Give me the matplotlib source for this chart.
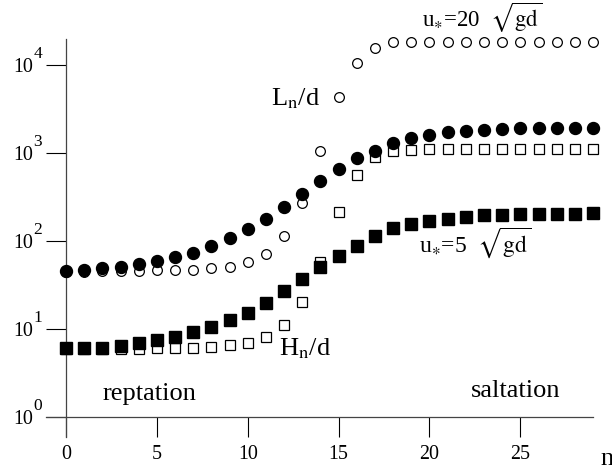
import numpy as np
import matplotlib
matplotlib.use("Agg")
import matplotlib.pyplot as plt
from matplotlib.ticker import NullLocator, FixedLocator

plt.rcParams['font.family'] = ['Liberation Serif', 'DejaVu Serif']
plt.rcParams['mathtext.fontset'] = 'stix'

# n = 0..29
n = np.arange(30)

# L_n/d, u*=20 sqrt(gd)  (open circles)
L_open = [43.9, 44.8, 45.6, 45.6, 45.6, 46.4, 46.4, 47.2, 49.0, 51.0,
          57.0, 71.7, 114, 272, 1054, 4360, 10620, 15730, 18100, 18400,
          18400, 18400, 18400, 18400, 18400, 18400, 18400, 18400, 18400, 18400]
# L_n/d, u*=5 sqrt(gd)  (filled circles)
L_fill = [45.6, 46.8, 49.7, 51.0, 54.8, 59.3, 65.3, 73.6, 87.7, 107,
          136, 178, 245, 345, 481, 658, 877, 1054, 1309, 1469,
          1602, 1719, 1778, 1841, 1875, 1909, 1909, 1938, 1938, 1938]
# H_n/d, u*=20 sqrt(gd)  (open squares)
H_open = [6.0, 6.0, 6.0, 6.0, 6.0, 6.02, 6.08, 6.13, 6.24, 6.58,
          7.02, 8.22, 11.2, 20.3, 57.7, 212, 562, 893, 1054, 1090,
          1102, 1102, 1102, 1102, 1102, 1102, 1102, 1102, 1102, 1102]
# H_n/d, u*=5 sqrt(gd)  (filled squares)
H_fill = [6.03, 6.03, 6.13, 6.46, 6.88, 7.44, 8.05, 9.17, 10.45, 12.6,
          15.1, 19.6, 26.7, 36.7, 50.2, 67.0, 88.5, 113, 140.6, 156,
          167.5, 176.5, 187.4, 197.4, 197.4, 202.8, 202.8, 202.8, 202.8, 206.5]

xticks = [0, 5, 10, 15, 20, 25]
yticks = [1, 10, 100, 1000, 10000]
yexp = ['0', '1', '2', '3', '4']

fig = plt.figure(figsize=(6.12, 4.73), dpi=100)
ax = fig.add_axes([0.0752, 0.0761, 0.8938, 0.8414])

ax.plot(n, L_open, 'o', mfc='white', mec='black', mew=0.9, ms=7, zorder=3, clip_on=False)
ax.plot(n, L_fill, 'o', color='black', ms=8.6, zorder=4, clip_on=False)
ax.plot(n, H_open, 's', mfc='white', mec='black', mew=0.9, ms=7, zorder=3, clip_on=False)
ax.plot(n, H_fill, 's', color='black', ms=8, zorder=4, clip_on=False)

ax.set_yscale('log')
ax.set_xlim(-1.1, 29.0)
ax.set_ylim(10 ** -0.227, 10 ** 4.295)

for s in ['top', 'right']:
    ax.spines[s].set_visible(False)
ax.spines['left'].set_position(('data', 0))
ax.spines['bottom'].set_position(('data', 1))
for s in ['left', 'bottom']:
    ax.spines[s].set_color('#444444')
    ax.spines[s].set_linewidth(0.9)

ax.xaxis.set_major_locator(FixedLocator(xticks))
ax.set_xticklabels([str(t) for t in xticks], fontsize=14.4)
ax.yaxis.set_major_locator(FixedLocator(yticks))
ax.yaxis.set_minor_locator(NullLocator())
ax.set_yticklabels([])
ax.tick_params(axis='x', direction='out', length=14.4, width=0.8, pad=6)
ax.tick_params(axis='y', direction='out', length=14.4, width=0.8, pad=0)

# y tick labels: 10 with large exponent
for v, e in zip(yticks, yexp):
    ax.annotate('10', xy=(0, v), xytext=(-23.8, -5), textcoords='offset points',
                ha='right', va='baseline', fontsize=14.4, annotation_clip=False)
    ax.annotate(e, xy=(0, v), xytext=(-23.6, 5), textcoords='offset points',
                ha='left', va='baseline', fontsize=12.5, annotation_clip=False)

ax.text(12.64, 10 ** 3.545, r'L$_{\mathrm{n}}$/d', fontsize=19, ha='center', va='baseline')
ax.text(11.70, 10 ** 0.7045, r'H$_{\mathrm{n}}$/d', fontsize=19, ha='left', va='baseline')
ax.text(19.45, 10 ** 1.875, r'u$_{\ast}$=5  $\sqrt{\mathrm{gd}}$', fontsize=17, ha='left', va='baseline')
ax.text(19.6, 10 ** 4.43, r'u$_{\ast}$=20  $\sqrt{\mathrm{gd}}$', fontsize=16.5, ha='left', va='baseline',
        clip_on=False)
ax.text(2.03, 10 ** 0.193, 'reptation', fontsize=19, ha='left', va='baseline')
ax.text(22.3, 10 ** 0.23, 'saltation', fontsize=19, ha='left', va='baseline')
fig.text(600 / 612, 1 - 465 / 473, 'n', fontsize=19, ha='left', va='baseline')

fig.savefig('out.png', dpi=100)
